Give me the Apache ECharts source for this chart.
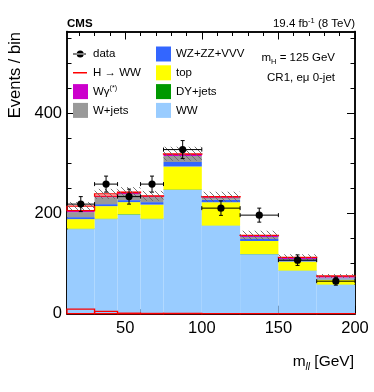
<!DOCTYPE html>
<html><head><meta charset="UTF-8">
<title>CR1 mll</title>
<script src="https://cdn.jsdelivr.net/npm/echarts@6/dist/echarts.min.js"></script>
<style>html,body{margin:0;padding:0;background:#fff}#g1{width:374px;height:392px}</style>
</head>
<body>
<div id="g1"></div>
<script type="text/javascript">
// bin edges (GeV) and per-process yields
var edges   = [12, 30, 45, 60, 75, 100, 125, 150, 175, 200];
var ww      = [169, 189, 198, 189, 247, 176, 119, 86, 58];
var dyjets  = [1, 1, 1, 1, 1, 0.5, 0.5, 0.5, 0.3];
var topq    = [19, 25, 24, 28, 46, 46, 26, 18, 10];
var vz      = [4, 4, 4, 5, 9, 5, 4, 3, 2];
var wjets   = [10, 14, 12, 10, 12, 4, 4, 2, 2];
var wgamma  = [3, 2, 3, 2, 4, 2, 3, 3, 3];
var hww     = [9, 4.5, 1, 0.5, 0.5, 0.3, 0.2, 0.2, 0.1];
var syst    = [8, 10, 10, 10, 14, 10, 9, 6, 4];
var data    = [219, 259, 234, 259, 328, 211, 197, 107, 65];
var dataErr = [15, 16, 15, 16, 18, 14.5, 14, 10.5, 8];
var xMajor = [50, 100, 150, 200];
var xMinor = [20, 30, 40, 60, 70, 80, 90, 110, 120, 130, 140, 160, 170, 180, 190];
var yMajor = [0, 200, 400];
var yMinor = [50, 100, 150, 250, 300, 350, 450, 500, 550];

var FONT = '"Liberation Sans", Arial, Helvetica, sans-serif';

// hatch pattern for the uncertainty band
var hatch = document.createElement('canvas');
hatch.width = 6; hatch.height = 6;
var hc = hatch.getContext('2d');
hc.strokeStyle = '#666'; hc.lineWidth = 0.9;
hc.beginPath();
hc.moveTo(0, 0); hc.lineTo(6, 6);
hc.moveTo(-1, 5); hc.lineTo(1, 7);
hc.moveTo(5, -1); hc.lineTo(7, 1);
hc.stroke();

function rectRender(style) {
    return function (params, api) {
        var p0 = api.coord([api.value(0), api.value(3)]);
        var p1 = api.coord([api.value(1), api.value(2)]);
        return {type: 'rect', shape: {x: p0[0], y: p0[1], width: p1[0] - p0[0], height: p1[1] - p0[1]}, style: style};
    };
}

var stackDefs = [
    {name: 'WW', vals: ww, color: '#99ccff'},
    {name: 'DY+jets', vals: dyjets, color: '#009900'},
    {name: 'top', vals: topq, color: '#ffff00'},
    {name: 'WZ+ZZ+VVV', vals: vz, color: '#3366ff'},
    {name: 'W+jets', vals: wjets, color: '#999999'},
    {name: 'Wγ(*)', vals: wgamma, color: '#cc00cc'}
];

var series = [];
var base = data.map(function () { return 0; });
stackDefs.forEach(function (d) {
    var items = d.vals.map(function (v, i) {
        var it = [edges[i], edges[i + 1], base[i], base[i] + v];
        base[i] += v;
        return it;
    });
    series.push({type: 'custom', name: d.name, itemStyle: {color: d.color},
        encode: {x: [0, 1], y: [2, 3]}, renderItem: rectRender({fill: d.color}), data: items});
});

// signal: stacked on top (outline) and alone at the bottom
var hItems = [];
hww.forEach(function (h, i) {
    hItems.push([edges[i], edges[i + 1], base[i], base[i] + h]);
    hItems.push([edges[i], edges[i + 1], 0, h]);
});
series.push({type: 'custom', name: 'H → WW', itemStyle: {color: '#ff0000'},
    encode: {x: [0, 1], y: [2, 3]},
    renderItem: rectRender({fill: null, stroke: '#ff0000', lineWidth: 1.3}), data: hItems});

// uncertainty band
var bandItems = syst.map(function (s, i) {
    var tot = base[i] + hww[i];
    return [edges[i], edges[i + 1], tot - s, tot + s];
});
series.push({type: 'custom', name: 'unc', encode: {x: [0, 1], y: [2, 3]},
    renderItem: rectRender({fill: {image: hatch, repeat: 'repeat'}}), data: bandItems});

// data points with error bars
var dataItems = data.map(function (v, i) {
    return [(edges[i] + edges[i + 1]) / 2, v, dataErr[i], edges[i], edges[i + 1]];
});
series.push({type: 'custom', name: 'data', itemStyle: {color: '#000'},
    encode: {x: [0, 3, 4], y: 1},
    renderItem: function (params, api) {
        var c = api.coord([api.value(0), api.value(1)]);
        var l = api.coord([api.value(3), api.value(1)]);
        var r = api.coord([api.value(4), api.value(1)]);
        var t = api.coord([api.value(0), api.value(1) + api.value(2)]);
        var b = api.coord([api.value(0), api.value(1) - api.value(2)]);
        var st = {stroke: '#000', lineWidth: 1};
        return {type: 'group', children: [
            {type: 'line', shape: {x1: l[0], y1: c[1], x2: r[0], y2: c[1]}, style: st},
            {type: 'line', shape: {x1: l[0], y1: c[1] - 2, x2: l[0], y2: c[1] + 2}, style: st},
            {type: 'line', shape: {x1: r[0], y1: c[1] - 2, x2: r[0], y2: c[1] + 2}, style: st},
            {type: 'line', shape: {x1: c[0], y1: t[1], x2: c[0], y2: b[1]}, style: st},
            {type: 'line', shape: {x1: c[0] - 2, y1: t[1], x2: c[0] + 2, y2: t[1]}, style: st},
            {type: 'line', shape: {x1: c[0] - 2, y1: b[1], x2: c[0] + 2, y2: b[1]}, style: st},
            {type: 'circle', shape: {cx: c[0], cy: c[1], r: 3.6}, style: {fill: '#000'}}
        ]};
    },
    data: dataItems});

function xAx(pos, ticks, len, label) {
    return {type: 'value', position: pos, min: 12, max: 200,
        axisLine: {show: true, onZero: false, lineStyle: {color: '#000', width: 1.5}},
        axisTick: {show: true, inside: true, length: len, customValues: ticks, lineStyle: {color: '#000', width: 1}},
        axisLabel: {show: label, customValues: ticks, color: '#000', fontSize: 16.5, fontFamily: FONT, margin: 6},
        splitLine: {show: false}};
}
function yAx(pos, ticks, len, label) {
    return {type: 'value', position: pos, min: 0, max: 564,
        axisLine: {show: true, onZero: false, lineStyle: {color: '#000', width: 1.5}},
        axisTick: {show: true, inside: true, length: len, customValues: ticks, lineStyle: {color: '#000', width: 1}},
        axisLabel: {show: label, customValues: ticks, color: '#000', fontSize: 16.5, fontFamily: FONT, margin: 5},
        splitLine: {show: false}};
}

var legendCommon = {
    orient: 'vertical', itemWidth: 15, itemHeight: 15, itemGap: 3.8, padding: 0,
    textStyle: {fontSize: 11.5, color: '#000', fontFamily: FONT,
        rich: {n: {fontSize: 11.5, fontFamily: FONT, color: '#000', lineHeight: 15},
               s: {fontSize: 7, fontFamily: FONT, color: '#000', verticalAlign: 'top', lineHeight: 9}}},
    formatter: function (n) { return n === 'Wγ(*)' ? '{n|Wγ}{s|(*)}' : n; }
};
// tiny corner marks keep the path icons at full item height
var box = 'M0,0h0.01v0.01H0z M15,15h-0.01v-0.01H15z ';

var option = {
    animation: false,
    grid: {left: 67, right: 19, top: 31.5, bottom: 78.3},
    xAxis: [xAx('bottom', xMajor, 8, true), xAx('bottom', xMinor, 4.5, false),
            xAx('top', xMajor, 8, false), xAx('top', xMinor, 4.5, false)],
    yAxis: [yAx('left', yMajor, 8, true), yAx('left', yMinor, 4.5, false),
            yAx('right', yMajor, 8, false), yAx('right', yMinor, 4.5, false)],
    legend: [
        Object.assign({left: 73, top: 46.5, data: [
            {name: 'data', icon: 'path://' + box + 'M0,7h13v1H0z M3.7,7.5a3.5,3.5 0 1,0 7,0a3.5,3.5 0 1,0 -7,0z'},
            {name: 'H → WW', icon: 'path://' + box + 'M0,6.7h14v1.6H0z'},
            {name: 'Wγ(*)', icon: 'rect'},
            {name: 'W+jets', icon: 'rect'}]}, legendCommon),
        Object.assign({left: 156, top: 46.5, data: [
            {name: 'WZ+ZZ+VVV', icon: 'rect'},
            {name: 'top', icon: 'rect'},
            {name: 'DY+jets', icon: 'rect'},
            {name: 'WW', icon: 'rect'}]}, legendCommon)
    ],
    graphic: [
        {type: 'text', x: 67, y: 23.5, style: {text: 'CMS', font: 'bold 11.5px ' + FONT, fill: '#000', verticalAlign: 'middle'}},
        {type: 'text', x: 355, y: 24, style: {text: '{n|19.4 fb}{s|-1}{n| (8 TeV)}', align: 'right', verticalAlign: 'middle',
            rich: {n: {fontSize: 11.5, fontFamily: FONT, fill: '#000', lineHeight: 15},
                   s: {fontSize: 7.5, fontFamily: FONT, fill: '#000', verticalAlign: 'top', lineHeight: 9}}}},
        {type: 'text', x: 335, y: 58, style: {text: '{n|m}{s|H}{n| = 125 GeV}', align: 'right', verticalAlign: 'middle',
            rich: {n: {fontSize: 11.5, fontFamily: FONT, fill: '#000', lineHeight: 15},
                   s: {fontSize: 7.5, fontFamily: FONT, fill: '#000', verticalAlign: 'bottom', lineHeight: 10}}}},
        {type: 'text', x: 335, y: 78, style: {text: 'CR1, eμ 0-jet', align: 'right', verticalAlign: 'middle',
            font: '11.5px ' + FONT, fill: '#000'}},
        {type: 'text', x: 15, y: 32, rotation: Math.PI / 2, style: {text: 'Events / bin', align: 'right', verticalAlign: 'middle',
            font: '16.5px ' + FONT, fill: '#000'}},
        {type: 'text', x: 354, y: 362, style: {text: '{n|m}{s|ll}{n| [GeV]}', align: 'right', verticalAlign: 'middle',
            rich: {n: {fontSize: 15.5, fontFamily: FONT, fill: '#000', lineHeight: 20},
                   s: {fontSize: 10, fontFamily: FONT, fontStyle: 'italic', fill: '#000', verticalAlign: 'bottom', lineHeight: 13}}}}
    ],
    series: series
};

var myChart = echarts.init(document.getElementById('g1'));
myChart.setOption(option);
</script>
</body></html>
